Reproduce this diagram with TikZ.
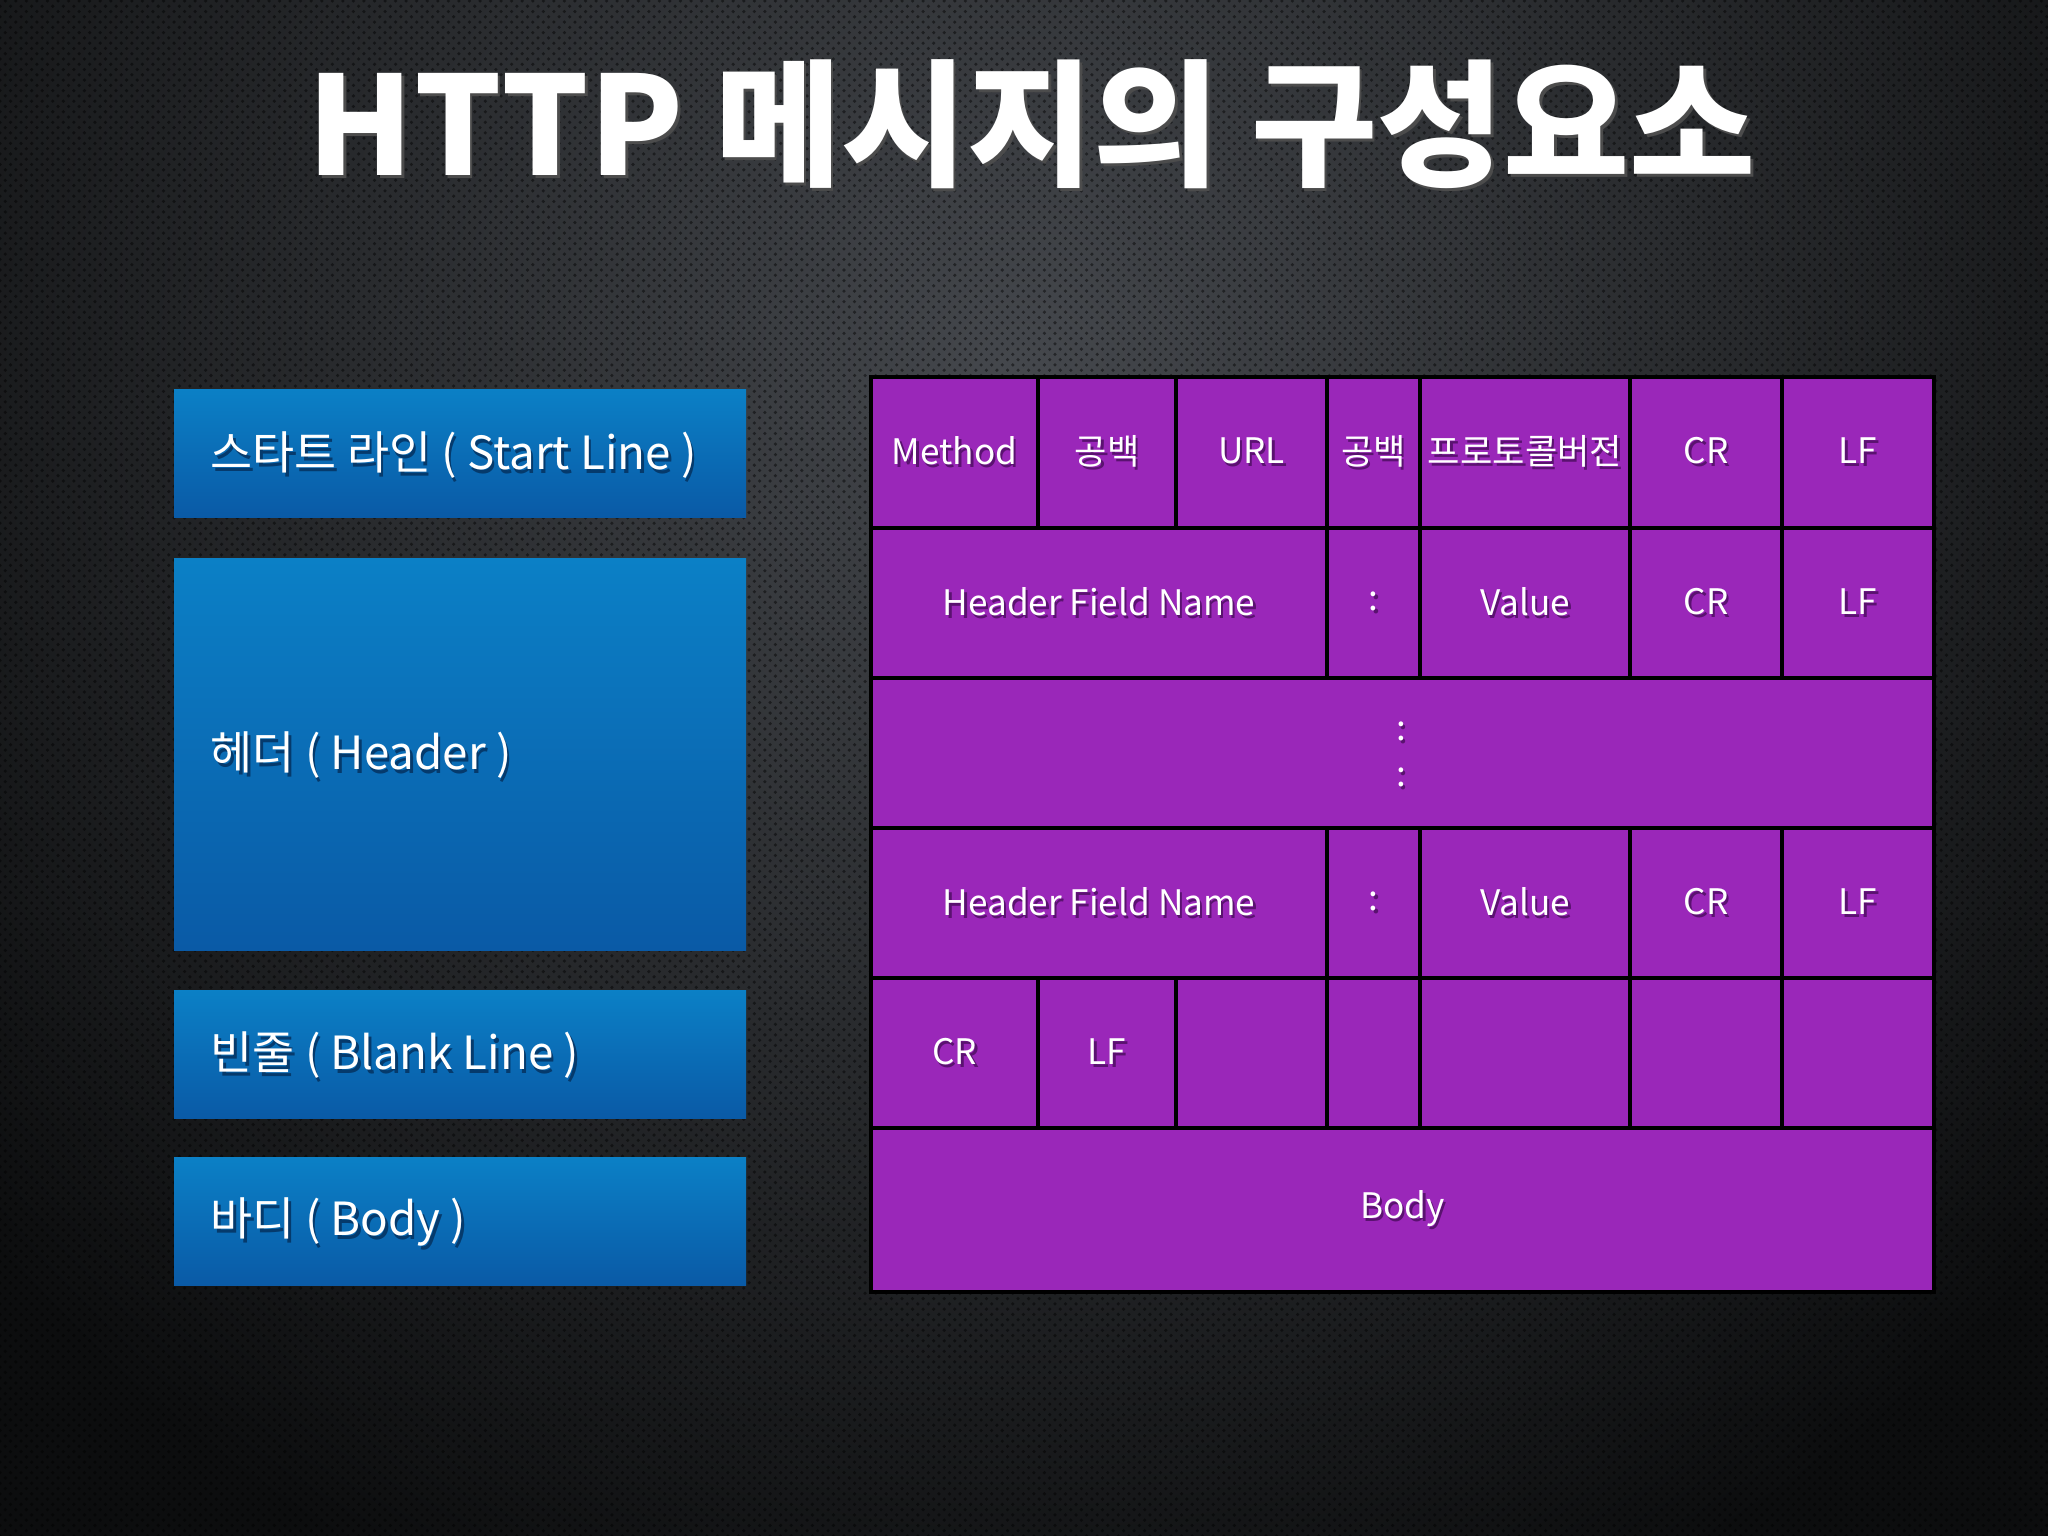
\documentclass[tikz,border=0pt]{standalone}
\usepackage{fontspec}
\setmainfont{Noto Sans CJK KR}
\usetikzlibrary{fit,patterns}
\definecolor{bgA}{HTML}{45484D}
\definecolor{bgB}{HTML}{0C0D0E}
\definecolor{blueT}{HTML}{0B80C6}
\definecolor{blueB}{HTML}{0A5AA6}
\definecolor{purp}{HTML}{9A27B9}
\definecolor{purpS}{HTML}{5A1270}
\definecolor{blueS}{HTML}{053A6C}
\newcommand\shd[2]{\makebox[0pt][l]{\hspace{0.7pt}\raisebox{-0.9pt}{\textcolor{#1}{#2}}}#2}
\tikzset{
 cell/.style={draw=black, line width=1.3pt, fill=purp, inner sep=0pt, outer sep=0pt},
 ctext/.style={text=white, inner sep=0pt, font=\fontsize{10}{12}\selectfont},
 part/.style={inner sep=0pt, outer sep=0pt, top color=blueT, bottom color=blueB},
 ptext/.style={anchor=west, inner sep=0pt, text=white, font=\fontsize{13}{16}\selectfont},
 ttl/.style={text=white, inner sep=0pt, font=\fontsize{39}{44}\selectfont\bfseries}
}
\newcommand\celltext[2]{\node[ctext] at (#1.center) {\shd{purpS}{#2}};}
\begin{document}
\begin{tikzpicture}[x=0.01cm, y=-0.01cm]
\useasboundingbox (0,0) rectangle (2048,1536);
% background
\fill[bgB] (0,0) rectangle (2048,1536);
\begin{scope}
\clip (0,0) rectangle (2048,1536);
\shade[inner color=bgA, outer color=bgB] (1024,380) circle (1350);
\fill[pattern=crosshatch dots, pattern color=black, opacity=0.45] (0,0) rectangle (2048,1536);
\end{scope}
% title
\node[ttl] (title) at (1032,126) {\shd{black!70}{HTTP 메시지의 구성요소}};
% left parts
\node[part, fit={(174,389)(746,517)}] (pStart) {};
\node[part, fit={(174,558)(746,950)}] (pHeader) {};
\node[part, fit={(174,990)(746,1118)}] (pBlank) {};
\node[part, fit={(174,1157)(746,1285)}] (pBody) {};
\node[ptext] (tStart) at (210,457) {\shd{blueS}{스타트 라인 ( Start Line )}};
\node[ptext] (tHeader) at (210,757) {\shd{blueS}{헤더 ( Header )}};
\node[ptext] (tBlank) at (210,1057) {\shd{blueS}{빈줄 ( Blank Line )}};
\node[ptext] (tBody) at (210,1224) {\shd{blueS}{바디 ( Body )}};
% grid row 1
\node[cell, fit={(871,377)(1038,528)}] (r1a) {};
\node[cell, fit={(1038,377)(1176,528)}] (r1b) {};
\node[cell, fit={(1176,377)(1327,528)}] (r1c) {};
\node[cell, fit={(1327,377)(1420,528)}] (r1d) {};
\node[cell, fit={(1420,377)(1630,528)}] (r1e) {};
\node[cell, fit={(1630,377)(1782,528)}] (r1f) {};
\node[cell, fit={(1782,377)(1934,528)}] (r1g) {};
% row 2
\node[cell, fit={(871,528)(1327,678)}] (r2a) {};
\node[cell, fit={(1327,528)(1420,678)}] (r2b) {};
\node[cell, fit={(1420,528)(1630,678)}] (r2c) {};
\node[cell, fit={(1630,528)(1782,678)}] (r2d) {};
\node[cell, fit={(1782,528)(1934,678)}] (r2e) {};
% row 3
\node[cell, fit={(871,678)(1934,828)}] (r3) {};
% row 4
\node[cell, fit={(871,828)(1327,978)}] (r4a) {};
\node[cell, fit={(1327,828)(1420,978)}] (r4b) {};
\node[cell, fit={(1420,828)(1630,978)}] (r4c) {};
\node[cell, fit={(1630,828)(1782,978)}] (r4d) {};
\node[cell, fit={(1782,828)(1934,978)}] (r4e) {};
% row 5
\node[cell, fit={(871,978)(1038,1128)}] (r5a) {};
\node[cell, fit={(1038,978)(1176,1128)}] (r5b) {};
\node[cell, fit={(1176,978)(1327,1128)}] (r5c) {};
\node[cell, fit={(1327,978)(1420,1128)}] (r5d) {};
\node[cell, fit={(1420,978)(1630,1128)}] (r5e) {};
\node[cell, fit={(1630,978)(1782,1128)}] (r5f) {};
\node[cell, fit={(1782,978)(1934,1128)}] (r5g) {};
% row 6
\node[cell, fit={(871,1128)(1934,1292)}] (r6) {};
% texts
\celltext{r1a}{Method}
\celltext{r1b}{공백}
\celltext{r1c}{URL}
\celltext{r1d}{공백}
\celltext{r1e}{프로토콜버전}
\celltext{r1f}{CR}
\celltext{r1g}{LF}
\celltext{r2a}{Header Field Name}
\celltext{r2b}{:}
\celltext{r2c}{Value}
\celltext{r2d}{CR}
\celltext{r2e}{LF}
\node[ctext] (d1) at (1401,733) {\shd{purpS}{:}};
\node[ctext] (d2) at (1401,779) {\shd{purpS}{:}};
\celltext{r4a}{Header Field Name}
\celltext{r4b}{:}
\celltext{r4c}{Value}
\celltext{r4d}{CR}
\celltext{r4e}{LF}
\celltext{r5a}{CR}
\celltext{r5b}{LF}
\celltext{r6}{Body}
\end{tikzpicture}
\end{document}
